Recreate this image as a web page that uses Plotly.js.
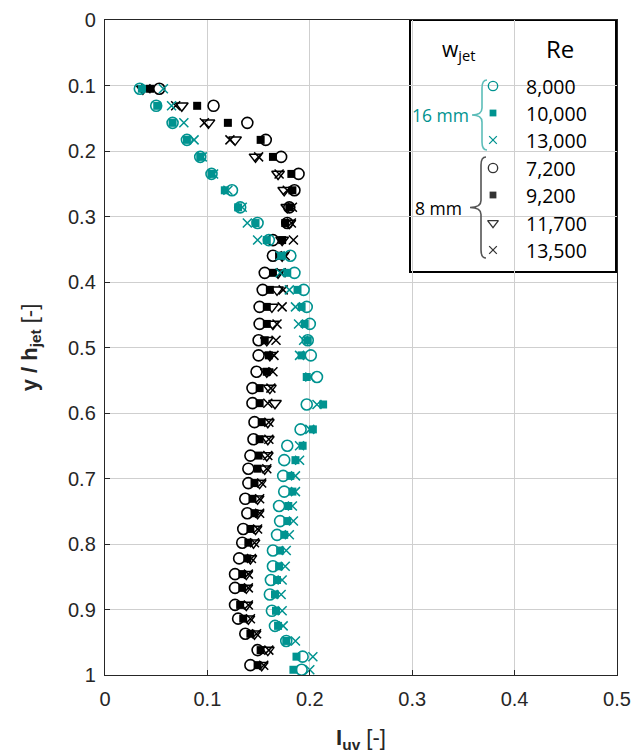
<!DOCTYPE html>
<html>
<head>
<meta charset="utf-8">
<script src="https://cdn.plot.ly/plotly-3.0.1.min.js"></script>
<style>html,body{margin:0;padding:0;background:#fff;}#chart{width:633px;height:756px;}</style>
</head>
<body>
<div id="chart"></div>
<script>
// ---- Data ----
// 8 mm jet (black)
const yBlack = [0.105,0.131,0.157,0.183,0.209,0.235,0.26,0.286,0.31,0.336,0.36,0.386,0.412,0.438,0.464,0.489,0.512,0.537,0.562,0.585,0.614,0.64,0.665,0.685,0.707,0.731,0.753,0.777,0.798,0.822,0.846,0.867,0.893,0.914,0.937,0.962,0.985];
const x7200  = [.053,.106,.139,.157,.172,.189,.185,.180,.178,.164,.164,.156,.154,.151,.151,.150,.150,.148,.144,.144,.146,.145,.142,.140,.140,.137,.139,.135,.134,.131,.127,.127,.127,.130,.137,.149,.142];
const x9200  = [.044,.090,.120,.152,.164,.182,.183,.180,.176,.173,.170,.164,.161,.158,.158,.156,.160,.158,.151,.151,.153,.151,.150,.149,.146,.144,.146,.142,.140,.139,.134,.134,.132,.135,.142,.152,.149];
const x11700 = [.037,.075,.101,.127,.147,.169,.175,.178,.180,.173,.173,.169,.168,.163,.164,.158,.161,.158,.161,.166,.159,.159,.158,.156,.151,.149,.149,.147,.145,.142,.138,.138,.138,.140,.146,.159,.153];
const x13500 = [.040,.069,.097,.122,.150,.170,.178,.183,.182,.184,.176,.172,.174,.173,.168,.167,.165,.164,.162,.159,.160,.160,.159,.158,.153,.151,.151,.149,.146,.143,.140,.140,.140,.142,.148,.160,.155];
// 16 mm jet (teal)
const yTeal = [0.105,0.131,0.157,0.183,0.209,0.235,0.26,0.286,0.31,0.336,0.36,0.386,0.412,0.438,0.464,0.489,0.512,0.545,0.587,0.625,0.65,0.672,0.696,0.72,0.742,0.765,0.786,0.81,0.834,0.855,0.877,0.902,0.925,0.948,0.972,0.992];
const x8000  = [.034,.050,.066,.080,.093,.104,.124,.132,.149,.160,.181,.185,.194,.197,.200,.198,.201,.207,.197,.191,.178,.175,.174,.175,.170,.171,.168,.164,.164,.162,.161,.163,.166,.177,.193,.192];
const x10000 = [.036,.051,.066,.080,.093,.104,.117,.130,.147,.158,.172,.178,.188,.192,.195,.198,.192,.197,.213,.203,.193,.186,.181,.183,.179,.178,.175,.171,.170,.168,.166,.167,.169,.177,.187,.184];
const x13000 = [.057,.065,.077,.087,.095,.106,.120,.134,.139,.149,.171,.171,.180,.186,.189,.194,.190,.200,.207,.200,.190,.190,.186,.186,.183,.184,.180,.177,.176,.173,.172,.173,.174,.186,.203,.200];

const xTicks = [0, 0.1, 0.2, 0.3, 0.4, 0.5];
const xTickText = ['0', '0.1', '0.2', '0.3', '0.4', '0.5'];
const yTicks = [0, 0.1, 0.2, 0.3, 0.4, 0.5, 0.6, 0.7, 0.8, 0.9, 1];
const yTickText = ['0', '0.1', '0.2', '0.3', '0.4', '0.5', '0.6', '0.7', '0.8', '0.9', '1'];

const groupLabels = ['16 mm', '8 mm'];
const reTeal = ['8,000', '10,000', '13,000'];
const reBlack = ['7,200', '9,200', '11,700', '13,500'];

// ---- Styling ----
const TEAL = '#009390';
const BLACK = '#000000';
const W = 633, H = 756, L = 105, R = 16, T = 20, B = 81;
const plotW = W - L - R, plotH = H - T - B;
const px = v => (v - L) / plotW;          // pixel -> paper x
const py = v => (H - B - v) / plotH;      // pixel -> paper y

const SYM = {
  '7,200': ['circle-open', BLACK, 11, 1.6], '9,200': ['square', BLACK, 8, 0],
  '11,700': ['triangle-down-open', BLACK, 11, 1.5], '13,500': ['x-thin-open', BLACK, 9, 1.5],
  '8,000': ['circle-open', TEAL, 11, 1.6], '10,000': ['square', TEAL, 8, 0],
  '13,000': ['x-thin-open', TEAL, 9, 1.5]
};
function mk(x, y, name, xa, ya, scale) {
  const s = SYM[name];
  return {
    type: 'scatter', mode: 'markers', x: x, y: y, name: name, showlegend: false,
    xaxis: xa || 'x', yaxis: ya || 'y',
    marker: {symbol: s[0], color: s[1], size: s[2] * (scale || 1), line: {color: s[1], width: s[3] * (scale || 1)}},
    cliponaxis: false, hoverinfo: 'skip'
  };
}
const traces = [
  mk(x7200, yBlack, '7,200'),
  mk(x9200, yBlack, '9,200'),
  mk(x11700, yBlack, '11,700'),
  mk(x13500, yBlack, '13,500'),
  mk(x8000, yTeal, '8,000'),
  mk(x10000, yTeal, '10,000'),
  mk(x13000, yTeal, '13,000')
];

// ---- Legend box (shapes, annotations, and key symbols on a hidden overlay axis in pixel units) ----
const symX = 493;
const rowTeal = [86, 113, 140];
const rowBlack = [168, 195, 223, 250];
reTeal.forEach((r, i) => traces.push(mk([symX], [rowTeal[i]], r, 'x2', 'y2', 0.85)));
reBlack.forEach((r, i) => traces.push(mk([symX], [rowBlack[i]], r, 'x2', 'y2', 0.85)));
for (let k = traces.length - 4; k < traces.length; k++) {
  traces[k].marker.color = '#333'; traces[k].marker.line.color = '#333';
}

function brace(xv, y0, y1, tipX) {
  const ym = (y0 + y1) / 2;
  const pts = [
    ['M', xv + 5, y0], ['Q', xv, y0, xv, y0 + 8], ['L', xv, ym - 7],
    ['Q', xv, ym, tipX, ym], ['Q', xv, ym, xv, ym + 7], ['L', xv, y1 - 8],
    ['Q', xv, y1, xv + 5, y1]
  ];
  return pts.map(p => {
    const nums = [];
    for (let i = 1; i < p.length; i += 2) nums.push(px(p[i]).toFixed(5) + ',' + py(p[i + 1]).toFixed(5));
    return p[0] + nums.join(' ');
  }).join(' ');
}
const shapes = [
  {type: 'rect', xref: 'paper', yref: 'paper', x0: px(410), x1: px(616), y0: py(272), y1: py(20),
   fillcolor: '#ffffff', line: {color: '#000', width: 2}, layer: 'between'},
  {type: 'path', xref: 'paper', yref: 'paper', path: brace(482, 80, 150, 472), line: {color: '#5dbdb9', width: 1.6}, layer: 'above'},
  {type: 'path', xref: 'paper', yref: 'paper', path: brace(481, 157, 258, 470), line: {color: '#555', width: 1.6}, layer: 'above'}
];

const LF = 'Liberation Sans, Arial, sans-serif';
const LEGF = 'Open Sans, Noto Sans, sans-serif';
const ann = [];
function addText(text, x, y, size, color, anchor) {
  ann.push({xref: 'paper', yref: 'paper', x: px(x), y: py(y), text: text, showarrow: false,
    xanchor: anchor || 'left', yanchor: 'middle', font: {family: LEGF, size: size, color: color || '#000'}});
}
addText('w<sub>jet</sub>', 440, 50, 21, '#000', 'left');
addText('Re', 560, 48, 24, '#000', 'center');
addText(groupLabels[0], 410, 115, 17.5, TEAL, 'left');
addText(groupLabels[1], 413, 208, 17.5, '#000', 'left');
for (let i = 0; i < 3; i++) addText(reTeal[i], 524, rowTeal[i], 19.5, '#000', 'left');
for (let i = 0; i < 4; i++) addText(reBlack[i], 524, rowBlack[i], 19.5, '#000', 'left');

const layout = {
  width: W, height: H,
  margin: {l: L, r: R, t: T, b: B, pad: 0},
  paper_bgcolor: '#fff', plot_bgcolor: '#fff',
  showlegend: false,
  font: {family: LF, color: '#262626'},
  xaxis: {
    range: [0, 0.5], tickvals: xTicks, ticktext: xTickText,
    showgrid: true, gridcolor: '#cfcfcf', gridwidth: 1, zeroline: false,
    showline: true, linecolor: '#262626', linewidth: 1.2, mirror: true,
    ticks: 'inside', ticklen: 5, tickcolor: '#262626',
    tickfont: {family: LF, size: 20, color: '#262626'},
    ticklabelstandoff: 6,
    title: {text: '<b>I</b><sub><b>uv</b></sub> [-]', font: {family: LF, size: 22, color: '#262626'}, standoff: 20}
  },
  yaxis: {
    range: [1, 0], tickvals: yTicks, ticktext: yTickText,
    showgrid: true, gridcolor: '#cfcfcf', gridwidth: 1, zeroline: false,
    showline: true, linecolor: '#262626', linewidth: 1.2, mirror: true,
    ticks: 'inside', ticklen: 5, tickcolor: '#262626',
    tickfont: {family: LF, size: 20, color: '#262626'},
    ticklabelstandoff: 4,
    title: {text: '<b>y / h</b><sub><b>jet</b></sub> [-]', font: {family: LF, size: 22, color: '#262626'}, standoff: 24}
  },
  xaxis2: {overlaying: 'x', range: [L, W - R], visible: false, fixedrange: true},
  yaxis2: {overlaying: 'y', range: [H - B, T], visible: false, fixedrange: true},
  shapes: shapes,
  annotations: ann
};

Plotly.newPlot('chart', traces, layout, {staticPlot: true, displayModeBar: false});
</script>
</body>
</html>
